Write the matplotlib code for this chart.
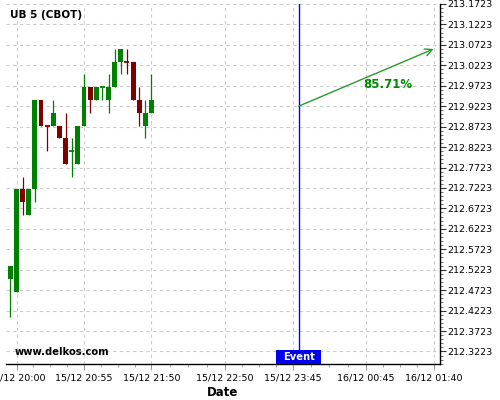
import matplotlib
matplotlib.use("Agg")
import matplotlib.pyplot as plt
import matplotlib.dates as mdates
import matplotlib.transforms as mtransforms
from matplotlib.patches import Rectangle
from matplotlib.ticker import FixedLocator, FuncFormatter
from datetime import datetime, timedelta

# ---- data ----
title = "UB 5 (CBOT)"
start_time = datetime(2014, 12, 15, 19, 55)
interval_min = 5
opens  = [212.50000, 212.46875, 212.71875, 212.65625, 212.71875, 212.93750, 212.87500, 212.87500,
          212.87500, 212.84375, 212.81250, 212.78125, 212.87500, 212.96875, 212.93750, 212.96875,
          212.93750, 212.96875, 213.03125, 213.03125, 213.03125, 212.93750, 212.87500, 212.90625]
highs  = [212.53125, 212.71875, 212.75000, 212.71875, 212.93750, 212.93750, 212.87500, 212.93750,
          212.87500, 212.90625, 212.84375, 212.87500, 213.00000, 212.96875, 212.96875, 212.96875,
          213.00000, 213.06250, 213.06250, 213.06250, 213.03125, 212.96875, 212.93750, 213.00000]
lows   = [212.40625, 212.46875, 212.65625, 212.65625, 212.68750, 212.87500, 212.81250, 212.87500,
          212.84375, 212.78125, 212.75000, 212.78125, 212.87500, 212.90625, 212.93750, 212.93750,
          212.90625, 212.96875, 213.00000, 213.00000, 212.93750, 212.87500, 212.84375, 212.90625]
closes = [212.53125, 212.71875, 212.68750, 212.71875, 212.93750, 212.87500, 212.87500, 212.90625,
          212.84375, 212.78125, 212.81250, 212.87500, 212.96875, 212.93750, 212.96875, 212.96875,
          212.96875, 213.03125, 213.06250, 213.03125, 212.93750, 212.90625, 212.90625, 212.93750]
doji_up = {6: False, 10: True, 15: True, 19: False}

event_time = datetime(2014, 12, 15, 23, 50)
arrow_start = (datetime(2014, 12, 15, 23, 50), 212.9223)
arrow_end = (datetime(2014, 12, 16, 1, 40), 213.0623)
arrow_label = "85.71%"
label_pos = (datetime(2014, 12, 16, 1, 3), 212.9763)

xtick_times = [datetime(2014, 12, 15, 20, 0), datetime(2014, 12, 15, 20, 55),
               datetime(2014, 12, 15, 21, 50), datetime(2014, 12, 15, 22, 50),
               datetime(2014, 12, 15, 23, 45), datetime(2014, 12, 16, 0, 45),
               datetime(2014, 12, 16, 1, 40)]
ytick_values = [212.3223 + 0.05 * i for i in range(18)]
x_range = (datetime(2014, 12, 15, 19, 51, 26), datetime(2014, 12, 16, 1, 45, 12))
y_range = (212.2917, 213.1732)

GREEN = "#008000"
RED = "#800000"

fig = plt.figure(figsize=(5, 4), dpi=100)
ax = fig.add_axes([0.012, 0.09, 0.868, 0.901])

times = [start_time + timedelta(minutes=interval_min * i) for i in range(len(opens))]
tnum = mdates.date2num(times)
width = 4 / 1440.0

for i, (t, o, h, l, c) in enumerate(zip(tnum, opens, highs, lows, closes)):
    if c > o:
        col = GREEN
    elif c < o:
        col = RED
    else:
        col = GREEN if doji_up.get(i, True) else RED
    ax.vlines(t, l, h, color=col, linewidth=0.9, zorder=3)
    if c != o:
        ax.bar(t, abs(c - o), bottom=min(o, c), width=width, color=col,
               edgecolor=col, linewidth=0, zorder=4)
    else:
        ax.hlines(c, t - width / 2, t + width / 2, color=col, linewidth=1.3, zorder=4)

# event
ev = mdates.date2num(event_time)
ax.axvline(ev, color="#0000ff", linewidth=1, zorder=5)
trans = mtransforms.blended_transform_factory(ax.transData, ax.transAxes)
box_w = 36.3 / 1440.0
box_h = 0.039
ax.add_patch(Rectangle((ev - box_w / 2, 0), box_w, box_h, transform=trans,
                       facecolor="#0000ee", edgecolor="none", zorder=6, clip_on=False))
ax.text(ev, box_h / 2, "Event", transform=trans, color="white", fontsize=7.2,
        fontweight="bold", ha="center", va="center", zorder=7)

# arrow
ax.annotate("", xy=(mdates.date2num(arrow_end[0]), arrow_end[1]),
            xytext=(mdates.date2num(arrow_start[0]), arrow_start[1]),
            arrowprops=dict(arrowstyle="->", color="#2a9a2a", lw=1, mutation_scale=13,
                            shrinkA=0, shrinkB=0), zorder=6)
ax.text(mdates.date2num(label_pos[0]), label_pos[1], arrow_label, color="#008800",
        fontsize=8.5, fontweight="bold", ha="center", va="center", zorder=6)

ax.text(0.01, 0.969, title, transform=ax.transAxes, fontsize=7.5, fontweight="bold",
        ha="left", va="center")
ax.text(0.021, 0.032, "www.delkos.com", transform=ax.transAxes, fontsize=7.2,
        fontweight="bold", ha="left", va="center", zorder=6)

ax.set_xlim(mdates.date2num(x_range[0]), mdates.date2num(x_range[1]))
ax.set_ylim(*y_range)

# x ticks
xt = list(mdates.date2num(xtick_times))
ax.xaxis.set_major_locator(FixedLocator(xt))
ax.set_xticklabels([t.strftime("%d/%m %H:%M") for t in xtick_times], fontsize=6.8)
minors = []
for a, b in zip(xt[:-1], xt[1:]):
    for k in range(1, 4):
        minors.append(a + (b - a) * k / 4)
ax.xaxis.set_minor_locator(FixedLocator(minors))

# y ticks
ax.yaxis.tick_right()
ax.yaxis.set_major_locator(FixedLocator(ytick_values))
ax.yaxis.set_major_formatter(FuncFormatter(lambda v, p: f"{v:.4f}"))
ymin = []
for v in ytick_values + [ytick_values[-1] + 0.05]:
    for k in range(1, 5):
        ymin.append(v - 0.01 * k)
ax.yaxis.set_minor_locator(FixedLocator(ymin))
ax.tick_params(axis="y", which="major", labelsize=6.8, length=4, width=0.8, pad=1, color="#333333")
ax.tick_params(axis="y", which="minor", length=2, width=0.6, color="#555555")
ax.tick_params(axis="x", which="major", length=4, width=0.6, pad=3, color="#888888")
ax.tick_params(axis="x", which="minor", length=2, width=0.5, color="#888888")

ax.grid(True, which="major", color="#cccccc", linestyle=(0, (3, 3)), linewidth=0.8)
ax.set_axisbelow(True)
for s in ["left", "top"]:
    ax.spines[s].set_visible(False)
ax.spines["bottom"].set_linewidth(1)
ax.spines["right"].set_linewidth(1)

ax.set_xlabel("Date", fontsize=8.5, fontweight="bold", labelpad=2)

fig.savefig("out.png", dpi=100)
